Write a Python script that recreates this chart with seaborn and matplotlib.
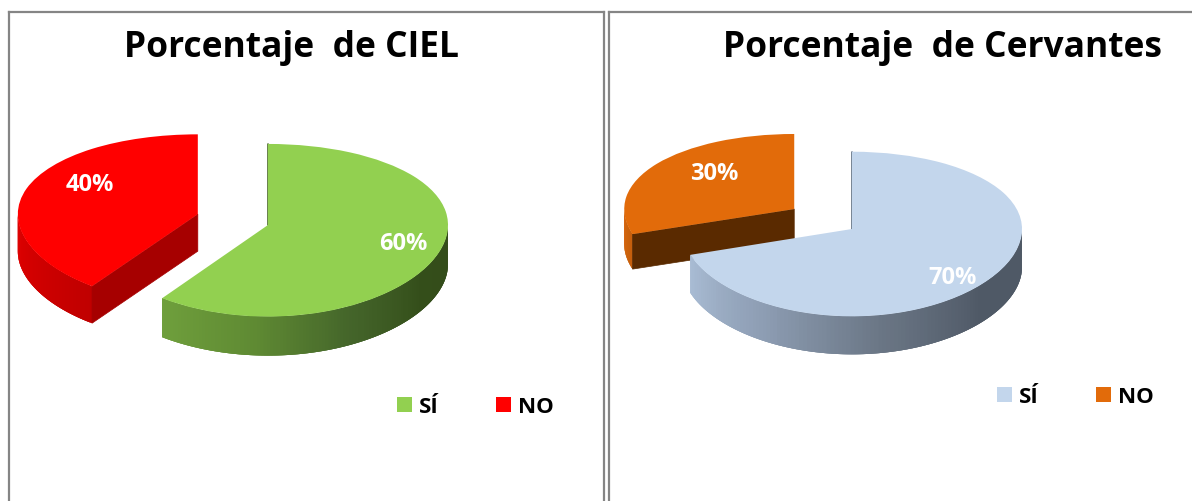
#!/usr/bin/env python3
# -*- coding: utf-8 -*-
# Two exploded "3D" pies side by side, CIEL and Cervantes

import numpy as np
import matplotlib
matplotlib.use('Agg')
import matplotlib.pyplot as plt
import matplotlib.transforms as mtransforms
import seaborn as sns

# Data
categories = ['SÍ', 'NO']
titles = ['Porcentaje  de CIEL', 'Porcentaje  de Cervantes']
ciel_values = [60, 40]
cervantes_values = [70, 30]

W, H = 1192, 502

sns.set_theme(style='white')
plt.rcParams['font.family'] = ['Open Sans', 'DejaVu Sans']
plt.rcParams['font.weight'] = 'bold'


class Persp(mtransforms.Transform):
    # unit pie coordinates -> figure pixels, far side a bit flatter
    input_dims = 2
    output_dims = 2

    def __init__(self, cx, cy, rx, ry, k=0.061):
        super().__init__()
        self.cx, self.cy, self.rx, self.ry, self.k = cx, cy, rx, ry, k

    def transform_non_affine(self, xy):
        xy = np.asarray(xy, dtype=float)
        w = 1 + self.k * xy[:, 1]
        return np.column_stack((self.cx + self.rx * xy[:, 0],
                                self.cy - self.ry * xy[:, 1] / w))


def unit_xy(angle, center=(0, 0)):
    # angle is clockwise from the top, in degrees
    a = np.radians(angle)
    return np.column_stack((center[0] + np.sin(a), center[1] + np.cos(a)))


def draw_rim(ax, persp, center, a0, a1, depth, colors, z):
    # outer side of a slice, thin overlapping strips for the gradient
    n = 120
    angles = np.linspace(a0, a1, n + 1)
    pts = persp.transform_non_affine(unit_xy(angles, center))
    palette = sns.blend_palette(colors, n)
    for i in range(n):
        j = min(i + 3, n)
        seg = pts[i:j + 1]
        xs = np.r_[seg[:, 0], seg[::-1, 0]]
        ys = np.r_[seg[:, 1], seg[::-1, 1] + depth]
        ax.fill(xs, ys, color=palette[i], lw=0, zorder=z)


def draw_panel(ax, values, title, explode, geom, depth, tops, rims, cut_color, back_color,
               label_pos, title_pos, legend_pos):
    wedges, _, pcts = ax.pie(values, startangle=90, counterclock=False, colors=tops,
                             explode=[0, explode], autopct='%d%%',
                             wedgeprops={'linewidth': 0},
                             textprops={'color': 'white', 'fontsize': 17, 'fontweight': 'bold'})
    persp = Persp(*geom)
    split = 360 * values[0] / sum(values)

    # second slice sits behind the first one
    mid = np.radians((split + 360) / 2)
    center = (explode * np.sin(mid), explode * np.cos(mid))
    wedges[0].set_transform(persp + ax.transData)
    wedges[1].set_transform(persp + ax.transData)
    wedges[1].set_zorder(3)
    wedges[0].set_zorder(6)

    draw_rim(ax, persp, center, split, 270, depth[1], rims[1], 2)
    apex = persp.transform_non_affine(np.array([center]))[0]
    corner = persp.transform_non_affine(unit_xy([split], center))[0]
    ax.fill([apex[0], corner[0], corner[0], apex[0]],
            [apex[1], corner[1], corner[1] + depth[1], apex[1] + depth[1]],
            color=cut_color, lw=0.5, zorder=2.5)

    draw_rim(ax, persp, (0, 0), 90, split, depth[0], rims[0], 5)
    top = persp.transform_non_affine(unit_xy([0]))[0]
    ax.plot([top[0], top[0]], [top[1], geom[1]], color=back_color, lw=1.2, zorder=5)

    for t, pos in zip(pcts, label_pos):
        t.set_position(pos)
        t.set_zorder(8)

    x0, x1, y0, y1 = ax.panel
    ax.set_aspect('auto')
    ax.set_xlim(x0, x1)
    ax.set_ylim(y1, y0)
    ax.set_frame_on(True)
    for s in ax.spines.values():
        s.set_color('#858585')
        s.set_linewidth(1.6)

    ax.text(title_pos[0], title_pos[1], title, ha='center', va='center',
            fontsize=25.5, fontweight='bold', color='black', zorder=8)

    leg = ax.legend(wedges, categories, ncol=2, frameon=False, loc='center left',
                    bbox_to_anchor=legend_pos, bbox_transform=ax.transData,
                    prop={'size': 16, 'weight': 'bold'}, handlelength=0.68, handleheight=0.68,
                    handletextpad=0.3, columnspacing=2.6, borderaxespad=0, borderpad=0)
    for t in leg.get_texts():
        t.set_color('black')


fig = plt.figure(figsize=(W / 100, H / 100), dpi=100)


def panel_axes(x0, x1, y0, y1):
    ax = fig.add_axes([x0 / W, 1 - y1 / H, (x1 - x0) / W, (y1 - y0) / H])
    ax.panel = (x0, x1, y0, y1)
    return ax


ax1 = panel_axes(9, 604, 13, 512)
draw_panel(ax1, ciel_values, titles[0], 0.41, (268, 226, 180, 86), (39, 37),
           ['#92d050', '#ff0000'],
           [['#334c1a', '#344e1a', '#44652a', '#5f8a33', '#6f9f3c'], ['#c00000', '#e00000']],
           '#a60000', '#4d6b2c',
           [(403, 244), (90, 185)], (291, 48), (397, 408))

ax2 = panel_axes(609, 1204, 13, 512)
draw_panel(ax2, cervantes_values, titles[1], 0.42, (852, 230, 170, 82), (38, 35),
           ['#c3d6ec', '#e26b0a'],
           [['#4f5966', '#4f5966', '#6b7786', '#8d9db3', '#a9bcd4'], ['#c45c08', '#d86608']],
           '#5a2a00', '#5f6f82',
           [(953, 278), (714, 174)], (942, 48), (997, 398))

plt.savefig('out.png', dpi=100)
